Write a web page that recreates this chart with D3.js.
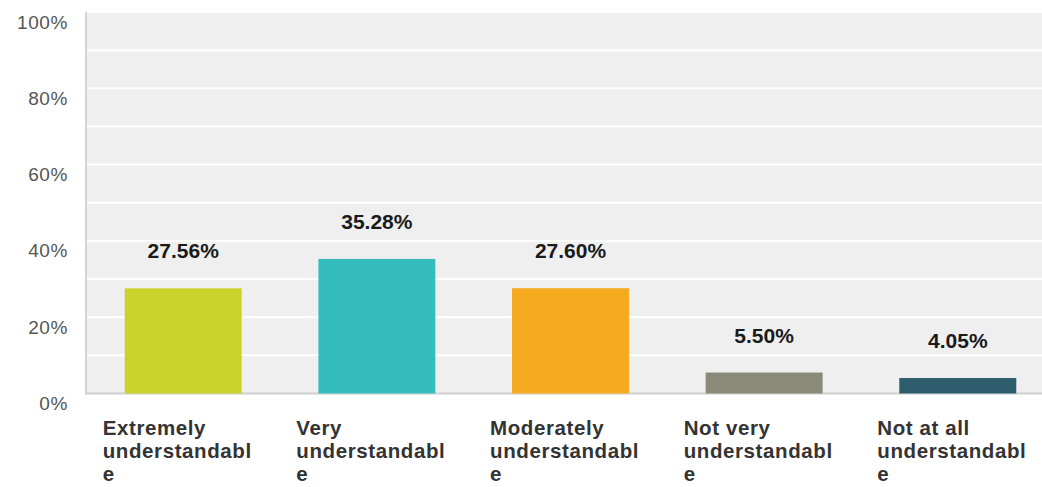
<!DOCTYPE html>
<html>
<head>
<meta charset="utf-8">
<script src="https://cdn.jsdelivr.net/npm/d3@7"></script>
<style>
html,body{margin:0;padding:0;background:#fff;}
svg{display:block;}
text{font-family:"Liberation Sans",Arial,sans-serif;}
</style>
</head>
<body>
<svg id="chart" width="1042" height="487"></svg>
<script>
const categories = ["Extremely understandable","Very understandable","Moderately understandable","Not very understandable","Not at all understandable"];
const labelLines = [["Extremely","understandabl","e"],["Very","understandabl","e"],["Moderately","understandabl","e"],["Not very","understandabl","e"],["Not at all","understandabl","e"]];
const values = [27.56, 35.28, 27.60, 5.50, 4.05];
const valueLabels = ["27.56%","35.28%","27.60%","5.50%","4.05%"];
const colors = ["#cad22b","#35bcbc","#f6aa20","#8a8a79","#2d5c6c"];
const yTicks = [0,20,40,60,80,100];
const gridTicks = [0,10,20,30,40,50,60,70,80,90,100];

const svg = d3.select("#chart");
const plotLeft = 86, plotRight = 1042, plotTop = 12, plotBottom = 393.5;

const y = d3.scaleLinear().domain([0,100]).range([plotBottom, plotTop]);
const x = d3.scaleBand().domain(categories).range([86, 1055]).paddingInner(0.396).paddingOuter(0.2);

// background
svg.append("rect").attr("x",plotLeft).attr("y",plotTop).attr("width",plotRight-plotLeft).attr("height",plotBottom-plotTop).attr("fill","#efefef");

// gridlines
svg.append("g").selectAll("line").data(gridTicks.filter(d=>d>0)).join("line")
  .attr("x1",plotLeft).attr("x2",plotRight)
  .attr("y1",d=>y(d)).attr("y2",d=>y(d))
  .attr("stroke","#ffffff").attr("stroke-width",2);

// left axis line
svg.append("line").attr("x1",plotLeft).attr("x2",plotLeft).attr("y1",plotTop).attr("y2",plotBottom+1)
  .attr("stroke","#d4d4d4").attr("stroke-width",2);
// baseline
svg.append("line").attr("x1",plotLeft).attr("x2",plotRight).attr("y1",plotBottom).attr("y2",plotBottom)
  .attr("stroke","#d0d0d0").attr("stroke-width",2);

// y axis labels
const yAxis = d3.axisLeft(y).tickValues(yTicks).tickFormat(d=>d+"%").tickSize(0).tickPadding(0);
const ga = svg.append("g").attr("transform","translate(68,0)").call(yAxis);
ga.select(".domain").remove();
ga.selectAll("text").attr("font-size",19).attr("fill","#555").attr("dy","0.32em")
  .attr("letter-spacing","0.6px")
  .attr("transform","translate(0,10)").style("font-family","'Liberation Sans',Arial,sans-serif");

// bars
svg.append("g").selectAll("rect").data(values).join("rect")
  .attr("x",(d,i)=>x(categories[i]))
  .attr("width",x.bandwidth())
  .attr("y",d=>y(d))
  .attr("height",d=>y(0)-y(d))
  .attr("fill",(d,i)=>colors[i]);

// value labels
svg.append("g").selectAll("text").data(values).join("text")
  .attr("x",(d,i)=>x(categories[i])+x.bandwidth()/2)
  .attr("y",d=>y(d)-30)
  .attr("text-anchor","middle")
  .attr("font-size",21).attr("font-weight","bold").attr("fill","#1a1a1a")
  .text((d,i)=>valueLabels[i]);

// category labels
const cl = svg.append("g").selectAll("text").data(categories).join("text")
  .attr("x",d=>x(d)-22)
  .attr("y",435)
  .attr("font-size",20.5).attr("font-weight","bold").attr("fill","#333")
  .attr("letter-spacing","0.6px");
cl.each(function(d,i){
  const t = d3.select(this);
  labelLines[i].forEach((ln,j)=>{
    t.append("tspan").attr("x",x(d)-22).attr("y",435+j*23).text(ln);
  });
});
</script>
</body>
</html>
